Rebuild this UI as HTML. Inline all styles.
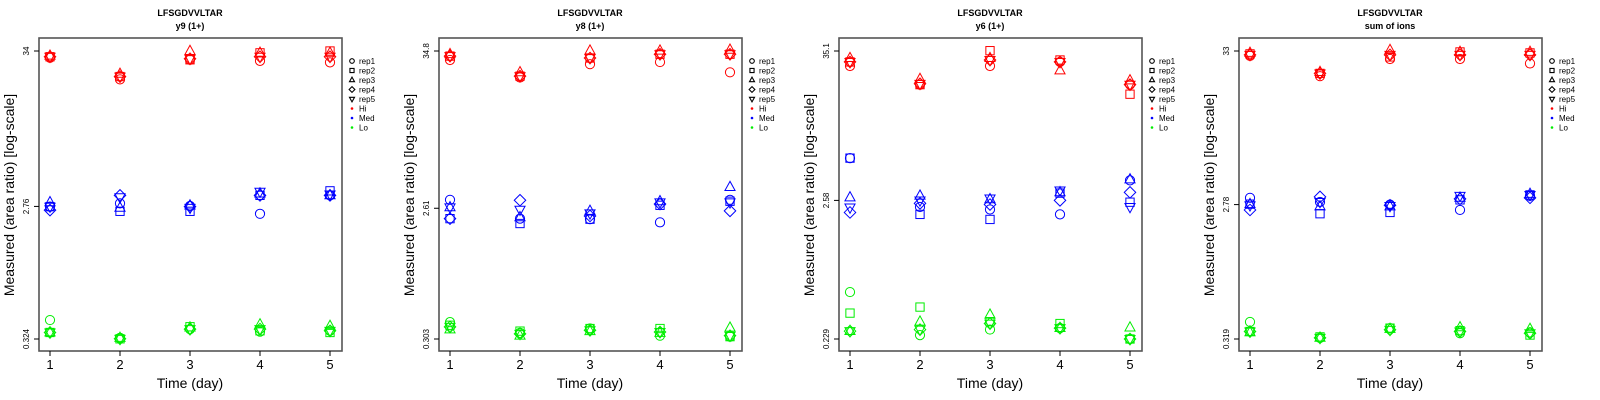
<!DOCTYPE html>
<html><head><meta charset="utf-8"><style>
body{margin:0;background:#fff;}
svg{display:block;font-family:"Liberation Sans",sans-serif;}
</style></head><body>
<svg id="chart" width="1600" height="400" viewBox="0 0 1600 400" xmlns="http://www.w3.org/2000/svg"></svg>
<script>
const days = [1,2,3,4,5];
const reps = ['rep1','rep2','rep3','rep4','rep5'];
const levels = ['Hi','Med','Lo'];
const levelColors = ['#ff0000','#0000ff','#00ee00'];
const panelTitles = ['y9 (1+)','y8 (1+)','y6 (1+)','sum of ions'];
const tickTop = [34, 34.8, 35.1, 33];
const tickMid = [2.76, 2.61, 2.58, 2.78];
const tickBot = [0.324, 0.303, 0.229, 0.319];
const tickLabelTop = ['34','34.8','35.1','33'];
const tickLabelMid = ['2.76','2.61','2.58','2.78'];
const tickLabelBot = ['0.324','0.303','0.229','0.319'];
// values[panel][level][rep][day]
const p1Hi = [[30.5,21.5,29.5,29,28.3],[31,22.5,29.5,33,34],[31.5,23.5,34,33,33],[31,22.5,30,31,31],[31,22.5,30,31,31]];
const p1Med = [[2.75,2.9,2.78,2.45,3.3],[2.75,2.55,2.55,3.3,3.55],[2.95,2.7,2.8,3.4,3.3],[2.6,3.3,2.75,3.3,3.3],[2.75,3.2,2.7,3.5,3.35]];
const p1Lo = [[0.44,0.33,0.38,0.365,0.37],[0.36,0.325,0.395,0.37,0.36],[0.36,0.33,0.39,0.41,0.40],[0.36,0.325,0.38,0.38,0.37],[0.36,0.325,0.38,0.38,0.37]];
const p2Hi = [[30,22.5,28,29,24.5],[32,23,31,33,33],[33,24.5,35,35,35.5],[32,23,31,33,33],[32,23,31,33,33]];
const p2Med = [[3.0,2.2,2.18,2.07,3.0],[2.2,2.03,2.18,2.74,2.93],[2.65,2.25,2.5,2.93,3.7],[2.2,2.98,2.3,2.8,2.5],[2.65,2.55,2.4,2.88,2.88]];
const p2Lo = [[0.40,0.335,0.36,0.32,0.315],[0.38,0.345,0.36,0.36,0.315],[0.355,0.32,0.345,0.335,0.365],[0.37,0.33,0.35,0.34,0.32],[0.37,0.33,0.35,0.34,0.32]];
const p3Hi = [[27,19.5,27,29,19.5],[29,19.5,35.3,30,16.5],[31,21.5,31,25,21],[29,19.8,30,29,19.5],[29,19.8,30,29,19.5]];
const p3Med = [[5.4,2.3,2.2,2.02,3.66],[5.4,2.02,1.85,2.93,2.5],[2.72,2.8,2.63,2.97,3.72],[2.09,2.45,2.4,2.58,2.97],[2.28,2.58,2.67,3.07,2.3]];
const p3Lo = [[0.52,0.245,0.27,0.277,0.229],[0.36,0.4,0.31,0.3,0.229],[0.263,0.31,0.35,0.277,0.28],[0.263,0.27,0.3,0.277,0.229],[0.263,0.27,0.3,0.277,0.229]];
const p4Hi = [[30.5,22,29,29,27],[31.5,23,30,32.5,32],[32,23.5,33.5,32.5,32.5],[31,23,31,31,31],[31,23,31,31,31]];
const p4Med = [[3.1,2.9,2.78,2.55,3.2],[2.8,2.4,2.45,3.0,3.25],[2.8,2.7,2.7,3.1,3.3],[2.55,3.15,2.75,3.05,3.1],[2.75,2.9,2.72,3.2,3.25]];
const p4Lo = [[0.42,0.325,0.38,0.35,0.355],[0.36,0.33,0.38,0.365,0.34],[0.355,0.325,0.375,0.385,0.375],[0.36,0.325,0.37,0.36,0.35],[0.36,0.325,0.37,0.36,0.35]];
const panelData = [[p1Hi,p1Med,p1Lo],[p2Hi,p2Med,p2Lo],[p3Hi,p3Med,p3Lo],[p4Hi,p4Med,p4Lo]];

const NS='http://www.w3.org/2000/svg';
const svg=document.getElementById('chart');
function mk(tag,attrs,parent){const e=document.createElementNS(NS,tag);for(const k in attrs)e.setAttribute(k,attrs[k]);(parent||svg).appendChild(e);return e;}
function symbol(g,shape,cx,cy,r,color,sw){
  let e;
  if(shape===0) e=mk('circle',{cx:cx,cy:cy,r:r,fill:'none',stroke:color,'stroke-width':sw},g);
  else if(shape===1) e=mk('rect',{x:cx-r*0.9,y:cy-r*0.9,width:r*1.8,height:r*1.8,fill:'none',stroke:color,'stroke-width':sw},g);
  else if(shape===2) e=mk('polygon',{points:`${cx},${cy-r*1.25} ${cx-r*1.1},${cy+r*0.75} ${cx+r*1.1},${cy+r*0.75}`,fill:'none',stroke:color,'stroke-width':sw},g);
  else if(shape===3) e=mk('polygon',{points:`${cx},${cy-r*1.25} ${cx+r*1.25},${cy} ${cx},${cy+r*1.25} ${cx-r*1.25},${cy}`,fill:'none',stroke:color,'stroke-width':sw},g);
  else e=mk('polygon',{points:`${cx},${cy+r*1.25} ${cx-r*1.1},${cy-r*0.75} ${cx+r*1.1},${cy-r*0.75}`,fill:'none',stroke:color,'stroke-width':sw},g);
  return e;
}
for(let p=0;p<4;p++){
  const ox=p*400;
  const g=mk('g',{});
  
  
  const L=39+ox,R=342+ox,T=38,B=351;
  const xs=d=>50+ox+(d-1)*70;
  const lt=Math.log(tickTop[p]),lb=Math.log(tickBot[p]);
  const ys=v=>339-(Math.log(v)-lb)/(lt-lb)*288;
  let t=mk('text',{x:190+ox,y:16,'text-anchor':'middle','font-size':9,'font-weight':'bold'},g);t.textContent='LFSGDVVLTAR';
  
  t=mk('text',{x:190+ox,y:29,'text-anchor':'middle','font-size':9,'font-weight':'bold'},g);t.textContent=panelTitles[p];
  
  const fr=mk('rect',{x:L,y:T,width:R-L,height:B-T,fill:'none',stroke:'#555','stroke-width':1.6},g);
  
  days.forEach(d=>{
    mk('line',{x1:xs(d),x2:xs(d),y1:B,y2:B+5,stroke:'#000','stroke-width':1},g);
    const tx=mk('text',{x:xs(d),y:369,'text-anchor':'middle','font-size':13},g);tx.textContent=d;
    
  });
  const yt=[[tickTop[p],tickLabelTop[p]],[tickMid[p],tickLabelMid[p]],[tickBot[p],tickLabelBot[p]]];
  yt.forEach(([v,lab])=>{
    const y=ys(v);
    mk('line',{x1:L-5,x2:L,y1:y,y2:y,stroke:'#000','stroke-width':1},g);
    const tx=mk('text',{x:29+ox,y:y,'text-anchor':'middle','font-size':8,transform:`rotate(-90 ${29+ox} ${y})`},g);tx.textContent=lab;
    
  });
  t=mk('text',{x:190+ox,y:388,'text-anchor':'middle','font-size':14},g);t.textContent='Time (day)';
  
  t=mk('text',{x:14+ox,y:195,'text-anchor':'middle','font-size':14,transform:`rotate(-90 ${14+ox} 195)`},g);t.textContent='Measured (area ratio) [log-scale]';
  
  for(let l=0;l<3;l++)for(let r=0;r<5;r++)days.forEach((d,i)=>{
    const e=symbol(g,r,xs(d),ys(panelData[p][l][r][i]),4.6,levelColors[l],1);
    
    
  });
  const lg=mk('g',{},g);
  
  reps.forEach((rp,r)=>{
    const y=61+r*9.5;
    symbol(lg,r,352+ox,y,2.3,'#000',1.1);
    const tx=mk('text',{x:359+ox,y:y+3,'font-size':8},lg);tx.textContent=rp;
    
  });
  levels.forEach((lv,l)=>{
    const y=61+(5+l)*9.5;
    mk('circle',{cx:352+ox,cy:y,r:1.3,fill:levelColors[l]},lg);
    const tx=mk('text',{x:359+ox,y:y+3,'font-size':8},lg);tx.textContent=lv;
    
  });
}
</script>
</body></html>
